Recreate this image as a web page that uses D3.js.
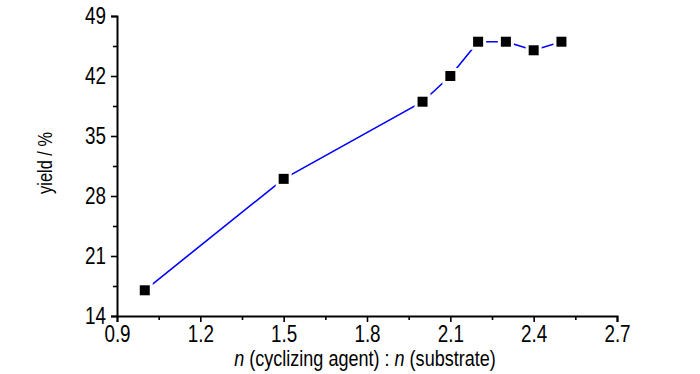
<!DOCTYPE html>
<html>
<head>
<meta charset="utf-8">
<script src="https://cdn.jsdelivr.net/npm/d3@7"></script>
<style>
body { margin: 0; background: #fff; }
svg text { font-family: "Liberation Sans", Arial, sans-serif; fill: #000; }
</style>
</head>
<body>
<div id="chart"></div>
<script>
var ratio = [1.0, 1.5, 2.0, 2.1, 2.2, 2.3, 2.4, 2.5];
var yieldPct = [17, 30, 39, 42, 46, 46, 45, 46];
var xTicks = [0.9, 1.2, 1.5, 1.8, 2.1, 2.4, 2.7];
var yTicks = [14, 21, 28, 35, 42, 49];

var margin = {top: 16, right: 83, bottom: 58, left: 117},
	width = 700 - margin.left - margin.right,
	height = 374 - margin.top - margin.bottom;

// the original uses a narrow face; squeeze Liberation Sans to match
var narrow = 0.82;

var x = d3.scaleLinear().domain([0.9, 2.7]).range([0, width]);
var y = d3.scaleLinear().domain([14, 49]).range([height, 0]);

var svg = d3.select("#chart")
	.append("svg")
	.attr("width", 700)
	.attr("height", 374)
	.append("g")
	.attr("transform", "translate(" + margin.left + "," + margin.top + ")");

// minor ticks halfway between majors
var xMinor = xTicks.slice(0, -1).map(function(d) { return d + 0.15; });
var yMinor = yTicks.slice(0, -1).map(function(d) { return d + 3.5; });

svg.append("g")
	.attr("transform", "translate(0," + height + ")")
	.call(d3.axisBottom(x).tickValues(xMinor).tickSize(4).tickFormat(""))
	.call(function(g) { g.select(".domain").remove(); g.selectAll("line").attr("stroke-width", 1.6); });

svg.append("g")
	.call(d3.axisLeft(y).tickValues(yMinor).tickSize(4).tickFormat(""))
	.call(function(g) { g.select(".domain").remove(); g.selectAll("line").attr("stroke-width", 1.6); });

var xAxis = svg.append("g")
	.attr("transform", "translate(0," + height + ")")
	.call(d3.axisBottom(x).tickValues(xTicks).tickSize(6).tickPadding(4).tickFormat(d3.format(".1f")));

var yAxis = svg.append("g")
	.call(d3.axisLeft(y).tickValues(yTicks).tickSize(6).tickPadding(5));

[xAxis, yAxis].forEach(function(g) {
	g.select(".domain").attr("stroke-width", 2);
	g.selectAll("line").attr("stroke-width", 1.6);
	g.selectAll("text")
		.style("font-size", "23px")
		.attr("x", function() { return +d3.select(this).attr("x") / narrow; })
		.attr("transform", "scale(" + narrow + ",1)");
});

svg.append("text")
	.attr("transform", "translate(-72," + (height / 2 - 3) + ") rotate(-90) scale(" + narrow + ",1)")
	.attr("dy", "0.35em")
	.attr("text-anchor", "middle")
	.style("font-size", "20px")
	.text("yield / %");

var xt = svg.append("text")
	.attr("transform", "translate(" + (width / 2 - 2) + "," + (height + 50) + ") scale(" + narrow + ",1)")
	.attr("text-anchor", "middle")
	.style("font-size", "22px");
xt.append("tspan").style("font-style", "italic").text("n");
xt.append("tspan").text(" (cyclizing agent) : ");
xt.append("tspan").style("font-style", "italic").text("n");
xt.append("tspan").text(" (substrate)");

var pts = ratio.map(function(d, i) { return {x: d, y: yieldPct[i]}; });

svg.append("path")
	.datum(pts)
	.attr("fill", "none")
	.attr("stroke", "#0000ff")
	.attr("stroke-width", 1.6)
	.attr("d", d3.line().x(function(d) { return x(d.x); }).y(function(d) { return y(d.y); }));

// white halo so the line stops short of each marker
svg.selectAll(".halo")
	.data(pts)
	.enter()
	.append("rect")
	.attr("class", "halo")
	.attr("x", function(d) { return x(d.x) - 8; })
	.attr("y", function(d) { return y(d.y) - 8; })
	.attr("width", 16)
	.attr("height", 16)
	.attr("fill", "#fff");

svg.selectAll(".pt")
	.data(pts)
	.enter()
	.append("rect")
	.attr("class", "pt")
	.attr("x", function(d) { return x(d.x) - 5; })
	.attr("y", function(d) { return y(d.y) - 5; })
	.attr("width", 10)
	.attr("height", 10)
	.attr("fill", "#000");
</script>
</body>
</html>
